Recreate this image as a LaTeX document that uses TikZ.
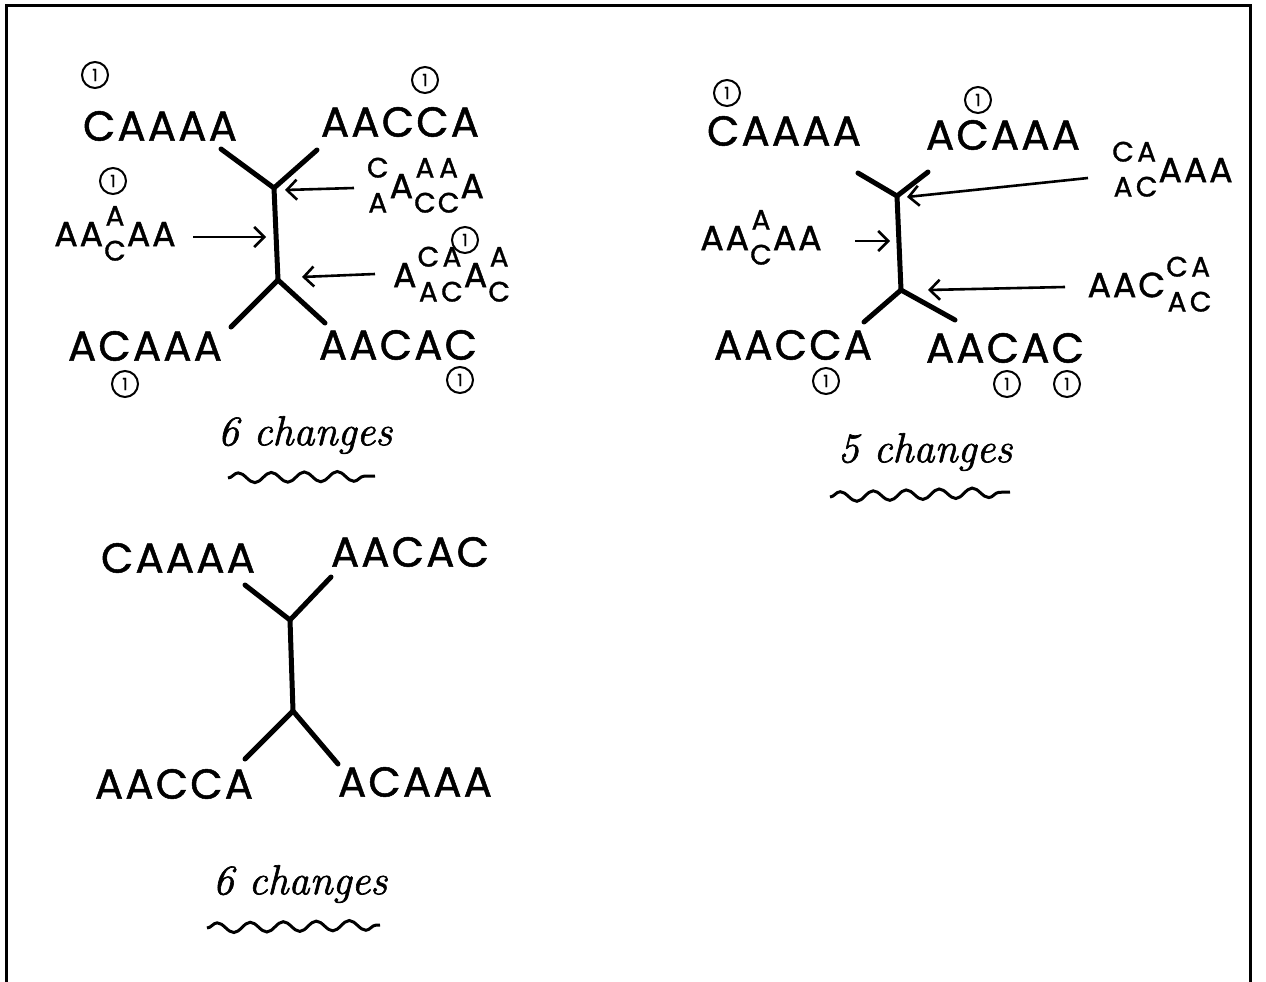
\documentclass[tikz,border=0pt]{standalone}
\usepackage{fontspec}
\newfontfamily\hand[LetterSpace=5,FakeBold=1.2]{Poppins}
\newfontfamily\handn[FakeBold=1]{Poppins}
\newfontfamily\chgfont[FakeBold=1.5]{Latin Modern Roman}
\usetikzlibrary{arrows.meta,decorations.pathmorphing}
\newcommand\stk[2]{\raisebox{4pt}{\begin{tabular}{@{\kern1pt}c@{\kern1pt}}\fontsize{28}{29}\selectfont #1\\\fontsize{28}{29}\selectfont #2\end{tabular}}}
\tikzset{
  seq/.style={inner sep=0pt,font=\hand\fontsize{42}{42}\selectfont},
  lab/.style={inner sep=0pt,font=\hand\fontsize{35}{35}\selectfont},
  br/.style={line width=5pt,line cap=round},
  arr/.style={line width=2.6pt,-{Straight Barb[length=10pt,width=20pt,line width=2.6pt]}},
  one/.style={circle,draw,line width=2pt,minimum size=26pt,inner sep=0pt,font=\handn\fontsize{17}{17}\selectfont},
  chg/.style={inner sep=0pt,font=\chgfont\itshape\fontsize{42}{42}\selectfont},
  wav/.style={line width=3pt,decorate,decoration={snake,segment length=33pt,amplitude=5pt}}
}
\begin{document}
\begin{tikzpicture}[x=1pt,y=-1pt]
\useasboundingbox (0,0) rectangle (1266,982);
\fill[white] (0,0) rectangle (1266,982);
\draw[line width=3pt] (6,982) -- (6,6) -- (1250,6) -- (1250,982);

% ---------- tree 1 ----------
\node[seq] (t1a) at (160,126) {CAAAA};
\node[seq] (t1b) at (400,122) {AACCA};
\node[seq] (t1c) at (145,346) {ACAAA};
\node[seq] (t1d) at (398,345) {AACAC};
\node[one] (o11) at (95,75) {1};
\node[one] (o12) at (425,80) {1};
\node[one] (o13) at (113,181) {1};
\node[one] (o14) at (125,384) {1};
\node[one] (o15) at (460,380) {1};
\node[one] (o16) at (465,240) {1};
\coordinate (j1u) at (274,188);
\coordinate (j1l) at (278,280);
\coordinate (e1a) at (221,149);
\coordinate (e1b) at (317,150);
\coordinate (e1c) at (231,327);
\coordinate (e1d) at (325,323);
\draw[br] (e1a) -- (j1u) -- (e1b);
\draw[br] (j1u) -- (j1l);
\draw[br] (e1c) -- (j1l) -- (e1d);
\node[lab] (t1m) at (115,236) {AA\stk{A}{C}AA};
\node[lab] (t1r) at (425,188) {\stk{C}{A}A\stk{A}{C}\stk{A}{C}A};
\node[lab] (t1s) at (452,277) {A\stk{C}{A}\stk{A}{C}A\stk{A}{C}};
\coordinate (s1m) at (193,237);
\coordinate (s1r) at (354,188);
\coordinate (s1s) at (375,274);
\coordinate (h1m) at (266,237);
\coordinate (h1r) at (285,190);
\coordinate (h1s) at (302,277);
\draw[arr] (s1m) -- (h1m);
\draw[arr] (s1r) -- (h1r);
\draw[arr] (s1s) -- (h1s);
\node[chg] (c1) at (305,435) {6 changes};
\coordinate (w1a) at (228,478);
\coordinate (w1b) at (375,476);
\draw[wav] (w1a) -- (w1b);

% ---------- tree 2 ----------
\node[seq] (t2a) at (784,131) {CAAAA};
\node[seq] (t2b) at (1003,135) {ACAAA};
\node[seq] (t2c) at (793,345) {AACCA};
\node[seq] (t2d) at (1005,348) {AACAC};
\node[one] (o21) at (727,93) {1};
\node[one] (o22) at (978,100) {1};
\node[one] (o23) at (826,381) {1};
\node[one] (o24) at (1007,384) {1};
\node[one] (o25) at (1067,384) {1};
\coordinate (j2u) at (897,196);
\coordinate (j2l) at (901,290);
\coordinate (e2a) at (858,173);
\coordinate (e2b) at (928,172);
\coordinate (e2c) at (864,322);
\coordinate (e2d) at (955,320);
\draw[br] (e2a) -- (j2u) -- (e2b);
\draw[br] (j2u) -- (j2l);
\draw[br] (e2c) -- (j2l) -- (e2d);
\node[lab] (t2m) at (761,240) {AA\stk{A}{C}AA};
\node[lab] (t2r) at (1172,172) {\stk{C}{A}\stk{A}{C}AAA};
\node[lab] (t2s) at (1150,287) {AAC\stk{C}{A}\stk{A}{C}};
\coordinate (s2m) at (855,241);
\coordinate (s2r) at (1088,178);
\coordinate (s2s) at (1065,287);
\coordinate (h2m) at (890,241);
\coordinate (h2r) at (907,197);
\coordinate (h2s) at (928,290);
\draw[arr] (s2m) -- (h2m);
\draw[arr] (s2r) -- (h2r);
\draw[arr] (s2s) -- (h2s);
\node[chg] (c2) at (925,452) {5 changes};
\coordinate (w2a) at (830,497);
\coordinate (w2b) at (1010,492);
\draw[wav] (w2a) -- (w2b);

% ---------- tree 3 ----------
\node[seq] (t3a) at (178,558) {CAAAA};
\node[seq] (t3b) at (410,552) {AACAC};
\node[seq] (t3c) at (174,784) {AACCA};
\node[seq] (t3d) at (415,782) {ACAAA};
\coordinate (j3u) at (290,620);
\coordinate (j3l) at (293,711);
\coordinate (e3a) at (245,585);
\coordinate (e3b) at (331,577);
\coordinate (e3c) at (245,759);
\coordinate (e3d) at (338,764);
\draw[br] (e3a) -- (j3u) -- (e3b);
\draw[br] (j3u) -- (j3l);
\draw[br] (e3c) -- (j3l) -- (e3d);
\node[chg] (c3) at (300,884) {6 changes};
\coordinate (w3a) at (207,928);
\coordinate (w3b) at (380,925);
\draw[wav] (w3a) -- (w3b);
\end{tikzpicture}
\end{document}
